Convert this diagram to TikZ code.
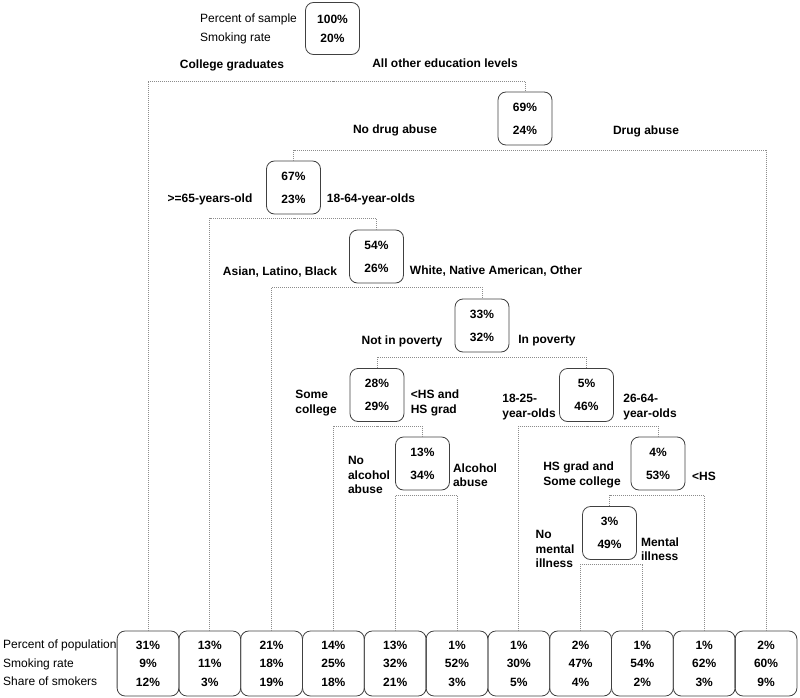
\documentclass[tikz,border=0pt]{standalone}
\usepackage{fontspec}
\setmainfont{Liberation Sans}
\usetikzlibrary{positioning,calc}

\begin{document}
\begin{tikzpicture}[
        x=1pt, y=-1pt,
        split/.style={rectangle, draw=black!75, line width=0.8pt, rounded corners=8pt, minimum width=54pt, minimum height=53pt, font=\fontsize{12}{23}\selectfont\bfseries, align=center, inner sep=0pt},
        leaf/.style={rectangle, draw=black!75, line width=0.8pt, rounded corners=8pt, minimum width=61.8pt, minimum height=65pt, font=\fontsize{12}{18.5}\selectfont\bfseries, align=center, inner sep=0pt, outer sep=0pt},
        cut/.style={font=\fontsize{12}{14.5}\selectfont\bfseries, align=left, inner sep=0pt},
        legend/.style={font=\fontsize{12}{19}\selectfont, align=left, inner sep=0pt},
        branch/.style={draw=black!45, line width=0.7pt, dash pattern=on 0.9pt off 1.1pt},
      ]
      \useasboundingbox (0,0) rectangle (800,698);
      % Splits
      \node [split, minimum height=52pt, font=\fontsize{12}{19}\selectfont\bfseries] (root) at (332.5,28.5) {100\%\\20\%};
      \node [legend, left=8pt of root] (rootlegend) {Percent of sample\\Smoking rate};
      \node [split] (n69) at (525,118.5) {69\%\\24\%};
      \node [split] (n67) at (293.5,187.5) {67\%\\23\%};
      \node [split] (n54) at (376.5,256.5) {54\%\\26\%};
      \node [split] (n33) at (482,325.5) {33\%\\32\%};
      \node [split] (n28) at (377,395) {28\%\\29\%};
      \node [split] (n5) at (586.5,395) {5\%\\46\%};
      \node [split] (n13) at (422.5,463.5) {13\%\\34\%};
      \node [split] (n4) at (658,463.5) {4\%\\53\%};
      \node [split] (n3) at (609.5,533) {3\%\\49\%};
      % Leaves
      \node [leaf] (leaf1) at (148,663.5) {31\%\\9\%\\12\%};
      \node [leaf, right=0pt of leaf1] (leaf2) {13\%\\11\%\\3\%};
      \node [leaf, right=0pt of leaf2] (leaf3) {21\%\\18\%\\19\%};
      \node [leaf, right=0pt of leaf3] (leaf4) {14\%\\25\%\\18\%};
      \node [leaf, right=0pt of leaf4] (leaf5) {13\%\\32\%\\21\%};
      \node [leaf, right=0pt of leaf5] (leaf6) {1\%\\52\%\\3\%};
      \node [leaf, right=0pt of leaf6] (leaf7) {1\%\\30\%\\5\%};
      \node [leaf, right=0pt of leaf7] (leaf8) {2\%\\47\%\\4\%};
      \node [leaf, right=0pt of leaf8] (leaf9) {1\%\\54\%\\2\%};
      \node [leaf, right=0pt of leaf9] (leaf10) {1\%\\62\%\\3\%};
      \node [leaf, right=0pt of leaf10] (leaf11) {2\%\\60\%\\9\%};
      \node [legend, font=\fontsize{12}{18.5}\selectfont, anchor=west] (leaflegend) at (3,663) {Percent of population\\Smoking rate\\Share of smokers};
      % Branch labels
      \node [cut] (college) at (232,65) {College graduates};
      \node [cut] (othered) at (445,63) {All other education levels};
      \node [cut] (nodrug) at (395,130) {No drug abuse};
      \node [cut] (drug) at (646,131) {Drug abuse};
      \node [cut] (old) at (210,199) {>=65-years-old};
      \node [cut] (adult) at (371,199) {18-64-year-olds};
      \node [cut] (minority) at (280,272) {Asian, Latino, Black};
      \node [cut] (white) at (496,271) {White, Native American, Other};
      \node [cut] (notpoor) at (402,341) {Not in poverty};
      \node [cut] (poor) at (547,341) {In poverty};
      \node [cut] (somecoll) at (316,403) {Some\\college};
      \node [cut] (hsgrad) at (435,403) {<HS and\\HS grad};
      \node [cut] (young) at (529,407) {18-25-\\year-olds};
      \node [cut] (mid) at (650,407) {26-64-\\year-olds};
      \node [cut] (noalc) at (369,475) {No\\alcohol\\abuse};
      \node [cut] (alc) at (475,475) {Alcohol\\abuse};
      \node [cut] (hssome) at (582,475) {HS grad and\\Some college};
      \node [cut] (lesshs) at (704,476) {<HS};
      \node [cut] (nomental) at (555,549) {No\\mental\\illness};
      \node [cut] (mental) at (660,549) {Mental\\illness};
      % Connectors
      \draw [branch] (leaf1.north) |- ($(root.south)+(0,26)$) -| (n69.north);
      \draw [branch] (n67.north) |- ($(n69.south)+(0,5)$) -| (leaf11.north);
      \draw [branch] (leaf2.north) |- ($(n67.south)+(0,4)$) -| (n54.north);
      \draw [branch] (leaf3.north) |- ($(n54.south)+(0,4)$) -| (n33.north);
      \draw [branch] (n28.north) |- ($(n33.south)+(0,5)$) -| (n5.north);
      \draw [branch] (leaf4.north) |- ($(n28.south)+(0,4)$) -| (n13.north);
      \draw [branch] (leaf7.north) |- ($(n5.south)+(0,4)$) -| (n4.north);
      \draw [branch] (leaf5.north) |- ($(n13.south)+(0,5)$) -| (leaf6.north);
      \draw [branch] (n3.north) |- ($(n4.south)+(0,5)$) -| (leaf10.north);
      \draw [branch] (leaf8.north) |- ($(n3.south)+(0,4)$) -| (leaf9.north);
    \end{tikzpicture}
\end{document}
